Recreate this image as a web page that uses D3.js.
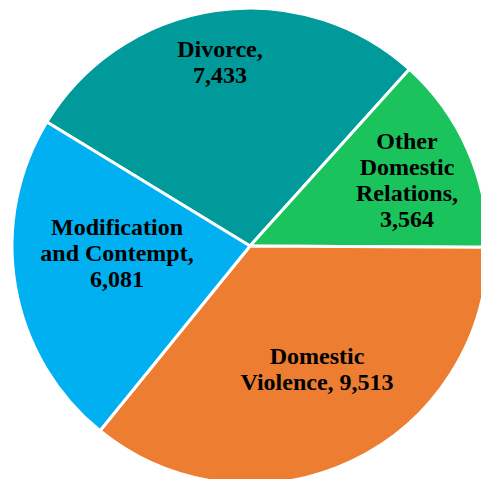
<!DOCTYPE html>
<html>
<head>
<meta charset="utf-8">
<script src="https://cdn.jsdelivr.net/npm/d3@7"></script>
<style>
  html, body { margin: 0; padding: 0; background: #ffffff; overflow: hidden; }
  svg { display: block; }
  text.label, text.meas { font-family: "Liberation Serif", "Times New Roman", Times, "DejaVu Serif", serif; font-weight: bold; }
</style>
</head>
<body>
<div id="chart"></div>
<script>
// ---- data ----
const categories = ["Divorce", "Other Domestic Relations", "Domestic Violence", "Modification and Contempt"];
const values = [7433, 3564, 9513, 6081];
const colors = ["#009A9A", "#1AC35C", "#ED7D31", "#00B0F0"];

// ---- layout ----
const W = 481, H = 479;
const cx = 250, cy = 246, R = 238;
const startDeg = -58.6;
const fontSize = 24, lineH = 26;
// label block centre offsets from pie centre, and wrap width
const labelOffsets = [[-30, -184], [157, -66], [67, 123], [-133, 7]];
const wrapWidths = [95, 110, 165, 155];

const svg = d3.select("#chart").append("svg")
  .attr("width", W).attr("height", H);

const g = svg.append("g").attr("transform", `translate(${cx},${cy})`);

const pie = d3.pie().sort(null)
  .startAngle(startDeg * Math.PI / 180)
  .endAngle(startDeg * Math.PI / 180 + 2 * Math.PI);
const arcs = pie(values);
const arc = d3.arc().innerRadius(0).outerRadius(R);

g.selectAll("path.slice").data(arcs).enter().append("path")
  .attr("class", "slice")
  .attr("d", arc)
  .attr("fill", (d, i) => colors[i])
  .attr("stroke", "#ffffff")
  .attr("stroke-width", 3)
  .attr("stroke-linejoin", "round");

const fmt = d3.format(",");

// measure helper
const meas = svg.append("text")
  .attr("class", "meas")
  .style("font-size", fontSize + "px")
  .attr("visibility", "hidden");
function textW(s) { meas.text(s); return meas.node().getComputedTextLength(); }

function wrap(str, maxW) {
  const words = str.split(" ");
  const lines = [];
  let cur = "";
  words.forEach(w => {
    const t = cur ? cur + " " + w : w;
    if (cur && textW(t) > maxW) { lines.push(cur); cur = w; }
    else cur = t;
  });
  if (cur) lines.push(cur);
  return lines;
}

const capH = 0.66 * fontSize;
arcs.forEach((d, i) => {
  const lbl = categories[i] + ", " + fmt(values[i]);
  const lines = wrap(lbl, wrapWidths[i]);
  const [ox, oy] = labelOffsets[i];
  const n = lines.length;
  const t = g.append("text")
    .attr("class", "label")
    .attr("text-anchor", "middle")
    .style("font-size", fontSize + "px")
    .attr("fill", "#000000");
  lines.forEach((ln, j) => {
    t.append("tspan")
      .attr("x", ox)
      .attr("y", oy - (n - 1) * lineH / 2 + j * lineH + capH / 2)
      .text(ln);
  });
});
meas.remove();
</script>
</body>
</html>
